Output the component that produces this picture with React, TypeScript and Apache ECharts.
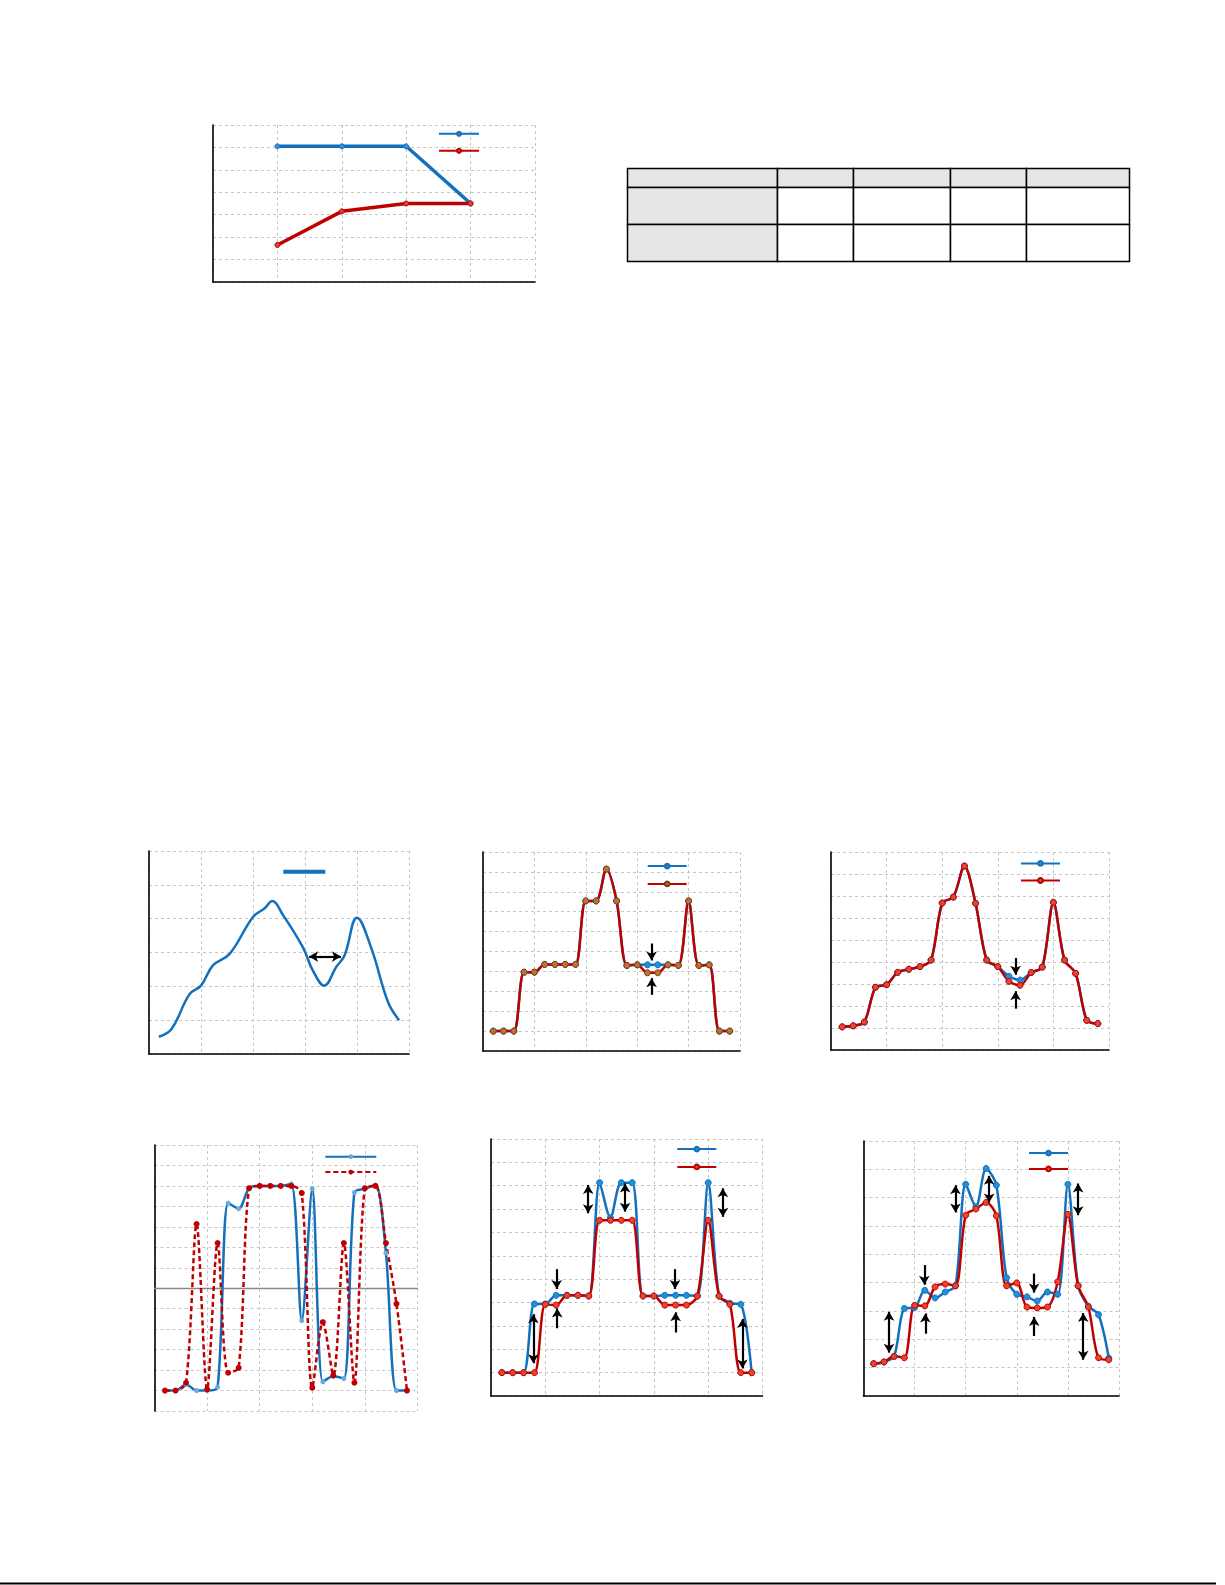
import React, { useEffect, useRef } from 'react';
import * as echarts from 'echarts';

// x positions shared by the six lower panels (24 samples)
const stepX = [0.2, 0.4, 0.6, 0.8, 1.0, 1.2, 1.4, 1.6, 1.8, 2.0, 2.2, 2.4, 2.6, 2.8, 3.0, 3.2, 3.4, 3.6, 3.8, 4.0, 4.2, 4.4, 4.6, 4.8];

// top chart
const topX = [1, 2, 3, 4];
const topBlue = [6.05, 6.05, 6.05, 3.5];
const topRed = [1.65, 3.15, 3.5, 3.5];

// panel A (single smooth curve)
const aX = [0.19, 0.43, 0.78, 1.0, 1.23, 1.55, 2.0, 2.22, 2.37, 2.58, 2.96, 3.15, 3.37, 3.6, 3.76, 4.0, 4.27, 4.6, 4.81];
const aY = [0.51, 0.73, 1.77, 2.02, 2.62, 2.96, 4.05, 4.3, 4.52, 4.1, 3.15, 2.47, 2.02, 2.57, 2.91, 4.03, 3.15, 1.52, 1.0];

// panel B
const bBlue = [1, 1, 1, 3.96, 3.96, 4.35, 4.35, 4.35, 4.35, 7.54, 7.54, 9.14, 7.54, 4.3, 4.33, 4.33, 4.33, 4.33, 4.3, 7.54, 4.3, 4.33, 1, 1];
const bRed = [1, 1, 1, 3.96, 3.96, 4.35, 4.35, 4.35, 4.35, 7.54, 7.54, 9.14, 7.54, 4.3, 4.33, 3.93, 3.93, 4.33, 4.3, 7.54, 4.3, 4.33, 1, 1];

// panel C
const cBlue = [1.05, 1.1, 1.27, 2.85, 2.97, 3.53, 3.67, 3.79, 4.09, 6.68, 6.95, 8.36, 6.67, 4.09, 3.79, 3.35, 3.18, 3.52, 3.77, 6.71, 4.09, 3.48, 1.35, 1.2];
const cRed = [1.05, 1.1, 1.27, 2.85, 2.97, 3.53, 3.67, 3.79, 4.09, 6.68, 6.95, 8.36, 6.67, 4.09, 3.79, 3.12, 2.94, 3.52, 3.77, 6.71, 4.09, 3.48, 1.35, 1.2];

// panel D
const dBlue = [-5, -5, -4.7, -5, -5, -4.83, 4.16, 3.89, 4.89, 5.0, 5.0, 5.0, 5.1, -1.58, 4.86, -4.57, -4.3, -4.41, 4.68, 4.86, 5.04, 1.72, -5, -5];
const dRed = [-5, -5, -4.62, 3.14, -4.94, 2.21, -4.13, -3.89, 4.89, 5.0, 5.0, 5.0, 5.0, 4.65, -4.86, -1.66, -4.26, 2.21, -4.62, 4.89, 5.0, 2.21, -0.76, -5];

// panel E
const eBlue = [1, 1, 1, 3.94, 3.94, 4.31, 4.31, 4.31, 4.28, 9.13, 7.63, 9.13, 9.13, 4.28, 4.28, 4.31, 4.31, 4.31, 4.28, 9.13, 4.28, 3.97, 3.92, 1];
const eRed = [1, 1, 1, 1, 3.92, 3.89, 4.31, 4.31, 4.28, 7.52, 7.52, 7.52, 7.52, 4.28, 4.28, 3.89, 3.89, 3.89, 4.28, 7.52, 4.28, 3.92, 1, 1];

// panel F
const fBlue = [1.14, 1.2, 1.4, 3.09, 3.12, 3.73, 3.46, 3.67, 3.89, 7.47, 6.68, 8.03, 7.44, 4.17, 3.59, 3.5, 3.35, 3.67, 3.59, 7.47, 3.89, 3.17, 2.87, 1.34];
const fRed = [1.14, 1.2, 1.4, 1.35, 3.2, 3.18, 3.85, 3.95, 3.89, 6.38, 6.6, 6.83, 6.36, 3.89, 3.99, 3.14, 3.11, 3.14, 4.03, 6.41, 3.89, 3.14, 1.35, 1.28];

// arrows: [x1, y1, x2, y2, double-headed]
const aArrows = [[3.08, 2.88, 3.69, 2.88, 1]];
const bArrows = [[3.28, 5.4, 3.28, 4.55, 0], [3.28, 2.82, 3.28, 3.66, 0]];
const cArrows = [[3.32, 4.18, 3.32, 3.42, 0], [3.32, 1.88, 3.32, 2.67, 0]];
const eArrows = [
  [1.79, 9.03, 1.79, 7.82, 1], [2.47, 9.1, 2.47, 7.89, 1], [4.27, 8.89, 4.27, 7.67, 1],
  [1.21, 5.43, 1.21, 4.58, 0], [1.22, 2.9, 1.22, 3.75, 0],
  [3.39, 5.43, 3.39, 4.58, 0], [3.4, 2.72, 3.4, 3.58, 0],
  [0.78, 3.5, 0.78, 1.4, 1], [4.63, 3.3, 4.63, 1.18, 1],
];
const fArrows = [
  [1.8, 7.44, 1.8, 6.48, 1], [2.46, 7.77, 2.46, 6.83, 1], [4.2, 7.5, 4.2, 6.38, 1],
  [1.19, 4.62, 1.19, 3.93, 0], [1.21, 2.2, 1.21, 2.91, 0],
  [3.34, 4.32, 3.34, 3.65, 0], [3.34, 2.12, 3.34, 2.79, 0],
  [0.5, 2.97, 0.5, 1.53, 1], [4.3, 2.93, 4.3, 1.28, 1],
];

const BLUE = '#1270BD';
const RED = '#C00000';

const pairs = (xs: number[], ys: number[]) => ys.map((y, i) => [xs[i], y]);

// black arrows (no svg shadow: a filter on a zero-width line hides it)
const arrowLines = (list: number[][]) => ({
  silent: true,
  animation: false,
  symbolSize: [8, 9],
  label: { show: false },
  emphasis: { disabled: true },
  lineStyle: { color: '#000', width: 2.2, type: 'solid' },
  data: list.map(([x1, y1, x2, y2, both]) => [
    { coord: [x1, y1], symbol: both ? 'arrow' : 'none' },
    { coord: [x2, y2], symbol: 'arrow' },
  ]),
});

const App = () => {
  const ref = useRef<HTMLDivElement>(null);

  useEffect(() => {
    if (!ref.current) return;
    const chart = echarts.init(ref.current, undefined, { renderer: 'svg' });

    const grids = [
      { left: 213, top: 125, width: 322, height: 157 },
      { left: 149, top: 851, width: 260, height: 203 },
      { left: 483, top: 852, width: 257, height: 199 },
      { left: 831, top: 852, width: 278, height: 198 },
      { left: 154.5, top: 1145, width: 263, height: 266 },
      { left: 491, top: 1139, width: 271.5, height: 257 },
      { left: 863.5, top: 1141, width: 255.5, height: 255 },
    ];
    const yRanges = [[0, 7], [0, 6], [0, 10], [0, 9], [-6, 7], [0, 11], [0, 9]];

    const split = { show: true, lineStyle: { color: '#c6c6c6', type: [3, 3], width: 1 } };

    const xAxis = grids.map((_, i) => ({
      type: 'value', gridIndex: i, min: 0, max: 5, interval: 1,
      axisLine: { show: true, onZero: true, lineStyle: { color: i === 4 ? '#8a8a8a' : '#000', width: i === 4 ? 1.3 : 1.6 } },
      axisTick: { show: false }, axisLabel: { show: false }, splitLine: split,
    }));
    const yAxis = grids.map((_, i) => ({
      type: 'value', gridIndex: i, min: yRanges[i][0], max: yRanges[i][1], interval: 1,
      axisLine: { show: true, onZero: false, lineStyle: { color: '#000', width: 1.6 } },
      axisTick: { show: false }, axisLabel: { show: false }, splitLine: split,
    }));

    const line = (name: string, g: number, data: number[][], color: string, extra: any = {}) => ({
      name, type: 'line', xAxisIndex: g, yAxisIndex: g, data,
      smooth: 0.3, symbol: 'circle', symbolSize: 6,
      lineStyle: { color, width: 2.5 },
      itemStyle: { color, borderColor: color, borderWidth: 1 },
      emphasis: { disabled: true },
      ...extra,
    });

    const series: any[] = [
      line('Top 1', 0, pairs(topX, topBlue), BLUE, {
        smooth: false, symbolSize: 5, lineStyle: { color: BLUE, width: 3.5 },
        itemStyle: { color: '#3a8fd6', borderColor: BLUE, borderWidth: 1 },
      }),
      line('Top 2', 0, pairs(topX, topRed), RED, {
        smooth: false, symbolSize: 5, lineStyle: { color: RED, width: 3.5 },
        itemStyle: { color: '#e0402a', borderColor: RED, borderWidth: 1 },
      }),
      line('A 1', 1, pairs(aX, aY), BLUE, { symbol: 'none', smooth: 0.4, markLine: arrowLines(aArrows) }),
      line('B 1', 2, pairs(stepX, bBlue), BLUE, { itemStyle: { color: '#1e90dc', borderColor: BLUE, borderWidth: 1 } }),
      line('B 2', 2, pairs(stepX, bRed), RED, {
        itemStyle: { color: '#c0702f', borderColor: '#7a3b10', borderWidth: 1 },
        markLine: arrowLines(bArrows),
      }),
      line('C 1', 3, pairs(stepX, cBlue), BLUE, { itemStyle: { color: '#1e90dc', borderColor: BLUE, borderWidth: 1 } }),
      line('C 2', 3, pairs(stepX, cRed), RED, {
        itemStyle: { color: '#e8452c', borderColor: '#b00000', borderWidth: 1 },
        markLine: arrowLines(cArrows),
      }),
      line('D 1', 4, pairs(stepX, dBlue), BLUE, {
        symbolSize: 5, itemStyle: { color: '#6fa8dc', borderColor: '#6fa8dc', borderWidth: 0 },
      }),
      line('D 2', 4, pairs(stepX, dRed), RED, {
        symbolSize: 6, lineStyle: { color: RED, width: 2.5, type: [5, 3] },
        itemStyle: { color: RED, borderColor: RED, borderWidth: 0 },
      }),
      line('E 1', 5, pairs(stepX, eBlue), BLUE, { itemStyle: { color: '#1e90dc', borderColor: BLUE, borderWidth: 1 } }),
      line('E 2', 5, pairs(stepX, eRed), RED, {
        itemStyle: { color: '#e8452c', borderColor: RED, borderWidth: 1 },
        markLine: arrowLines(eArrows),
      }),
      line('F 1', 6, pairs(stepX, fBlue), BLUE, { itemStyle: { color: '#1e90dc', borderColor: BLUE, borderWidth: 1 } }),
      line('F 2', 6, pairs(stepX, fRed), RED, {
        itemStyle: { color: '#e8452c', borderColor: RED, borderWidth: 1 },
        markLine: arrowLines(fArrows),
      }),
    ];

    // icon centre = top + itemHeight / 2
    const legend = (names: any[], left: number, centerY: number, itemWidth: number, step: number, itemHeight = 6) => ({
      data: names, left, top: centerY - itemHeight / 2, orient: 'vertical', itemWidth, itemHeight,
      itemGap: step - itemHeight, padding: 0, selectedMode: false, formatter: () => '',
    });

    // table cells: column edges and row edges
    const colX = [627.5, 777.5, 853.5, 950.5, 1026.5, 1129.5];
    const rowY = [168.5, 187.5, 224.5, 261.5];
    const cells: any[] = [];
    for (let r = 0; r < 3; r++) {
      for (let c = 0; c < 5; c++) {
        cells.push({
          type: 'rect',
          shape: { x: colX[c], y: rowY[r], width: colX[c + 1] - colX[c], height: rowY[r + 1] - rowY[r] },
          style: { fill: r === 0 || c === 0 ? '#e6e6e6' : '#fff', stroke: '#000', lineWidth: 1.5 },
          silent: true,
        });
      }
    }

    chart.setOption({
      animation: false,
      grid: grids,
      xAxis,
      yAxis,
      legend: [
        legend(['Top 1', 'Top 2'], 438, 133.3, 40, 16, 5),
        legend([{ name: 'A 1', icon: 'rect', itemStyle: { color: BLUE } }], 283.3, 870.7, 40, 16, 2),
        legend(['B 1', 'B 2'], 646.7, 865.7, 39, 17),
        legend(['C 1', 'C 2'], 1020, 863, 39, 16.3),
        legend(['D 1', 'D 2'], 324.3, 1156.7, 51, 16),
        legend(['E 1', 'E 2'], 676.3, 1148.7, 39, 17),
        legend(['F 1', 'F 2'], 1028, 1152.7, 39, 15),
      ],
      series,
      graphic: [
        ...cells,
        {
          type: 'line', silent: true,
          shape: { x1: 0, y1: 1583.5, x2: 1216, y2: 1583.5 },
          style: { stroke: '#000', lineWidth: 2 },
        },
      ],
    });

    return () => {
      chart.dispose();
    };
  }, []);

  return (
    <div
      ref={ref}
      style={{ position: 'absolute', left: 0, top: 0, width: 1225, height: 1585, background: '#fff' }}
    />
  );
};

export default App;
